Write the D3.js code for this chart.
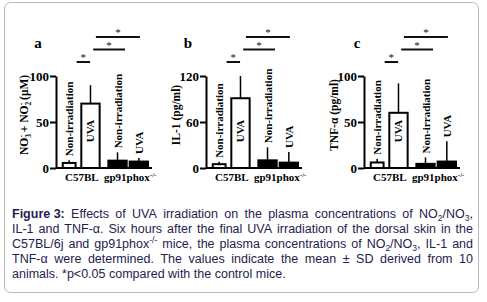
<!DOCTYPE html>
<html><head><meta charset="utf-8">
<script src="https://cdn.jsdelivr.net/npm/d3@7"></script>
<style>body{margin:0;background:#fff}svg{display:block}</style>
</head><body><svg id="chart" width="487" height="302"></svg>
<script>
// ---------- data ----------
const groups = ["C57BL", "gp91phox"];
const conditions = ["Non-irradiation", "UVA"];
const panelLetters = ["a", "b", "c"];
const yMaxes = [100, 120, 100];
const yTickValues = [[0, 50, 100], [0, 60, 120], [0, 50, 100]];
// order: C57BL non-irr, C57BL UVA, gp91 non-irr, gp91 UVA
const noxMeans = [5.5, 70, 8, 7];
const noxSD = [3, 20, 9, 4];
const il1Means = [5, 91, 10, 7];
const il1SD = [3, 29, 17, 14];
const tnfMeans = [6, 60, 4.5, 7];
const tnfSD = [4, 32, 7, 22];
// significance brackets, in bar-index units (0..3)
const sigSpans = [[0.35, 0.98], [1.1, 2.35], [1.2, 3.05]];

// ---------- layout ----------
const svg = d3.select("#chart");
svg.append("rect").attr("x", 4.5).attr("y", 2.5).attr("width", 474).attr("height", 290)
  .attr("rx", 6).attr("fill", "#fff").attr("stroke", "#b8b8b8").attr("stroke-width", 1);

const serif = "'Liberation Serif','Times New Roman',serif";
const panelAxisX = [56, 206, 364];
const panelW = 96;
const yTop = 76, yBase = 168;
const sigY = [62, 49.5, 37];
const labelX = [24, 176, 334];
const letterX = [38, 188, 357];
const barWidthFactor = [0.7, 1, 1, 1];

const panelData = [
  {means: noxMeans, sd: noxSD},
  {means: il1Means, sd: il1SD},
  {means: tnfMeans, sd: tnfSD}
];

panelData.forEach((pd, p) => {
  const g = svg.append("g").attr("transform", `translate(${panelAxisX[p]},0)`);
  const y = d3.scaleLinear().domain([0, yMaxes[p]]).range([yBase, yTop]);
  const x0 = d3.scaleBand().domain(groups).range([4, 92]).paddingInner(0.18).paddingOuter(0);
  const x1 = d3.scaleBand().domain(conditions).range([0, x0.bandwidth()]).paddingInner(0.14);
  const bars = [];
  groups.forEach((gr, gi) => conditions.forEach((c, ci) => {
    const i = gi * 2 + ci;
    const full = x1.bandwidth();
    const w = full * barWidthFactor[i];
    const cx = x0(gr) + x1(c) + full / 2;
    bars.push({group: gr, cond: c, mean: pd.means[i], sd: pd.sd[i], cx, w, i});
  }));
  const centers = bars.map(b => b.cx);
  const posAt = f => {
    const i = Math.min(Math.floor(f), 2);
    return centers[i] + (f - i) * (centers[i + 1] - centers[i]);
  };

  // error bars (upper only)
  g.selectAll(".err").data(bars).join("line")
    .attr("x1", b => b.cx).attr("x2", b => b.cx)
    .attr("y1", b => y(b.mean)).attr("y2", b => y(b.mean + b.sd))
    .attr("stroke", "#000").attr("stroke-width", 1.5);
  // bars
  g.selectAll(".bar").data(bars).join("rect")
    .attr("x", b => b.cx - b.w / 2).attr("width", b => b.w)
    .attr("y", b => y(b.mean)).attr("height", b => yBase - y(b.mean))
    .attr("fill", b => b.group === "C57BL" ? "#fff" : "#000")
    .attr("stroke", "#000").attr("stroke-width", 2);

  // y axis
  const yAxis = d3.axisLeft(y).tickValues(yTickValues[p]).tickSize(6).tickPadding(1).tickSizeOuter(0);
  const ya = g.append("g").call(yAxis);
  ya.select(".domain").attr("stroke-width", 2);
  ya.selectAll(".tick line").attr("stroke-width", 2);
  ya.selectAll(".tick text").attr("font-family", serif).attr("font-weight", "bold")
    .attr("font-size", 13).attr("fill", "#000");
  // x axis line
  g.append("line").attr("x1", 0).attr("x2", panelW).attr("y1", yBase).attr("y2", yBase)
    .attr("stroke", "#000").attr("stroke-width", 2);

  // group labels
  g.selectAll(".glab").data(groups).join("text")
    .attr("x", d => x0(d) + x0.bandwidth() / 2 + 2).attr("y", yBase + 12.5)
    .attr("text-anchor", "middle").attr("font-family", serif).attr("font-weight", "bold")
    .attr("font-size", 11).attr("fill", "#000")
    .each(function (d) {
      const t = d3.select(this);
      t.append("tspan").text(d);
      if (d === "gp91phox") t.append("tspan").attr("font-size", 7).attr("dy", -4).text("-/-");
    });

  // condition labels
  bars.forEach(b => {
    let ty, anchor;
    if (b.cond === "UVA" && b.group === "C57BL") { ty = yBase - 37; anchor = "middle"; }
    else { ty = y(b.mean + b.sd) - 4; anchor = "start"; }
    g.append("text").attr("transform", `translate(${b.cx + 4},${ty}) rotate(-90)`)
      .attr("text-anchor", anchor).attr("font-family", serif).attr("font-weight", "bold")
      .attr("font-size", 11).attr("fill", "#000").text(b.cond);
  });

  // significance
  sigSpans.forEach((s, k) => {
    const xa = posAt(s[0]), xb = posAt(s[1]);
    g.append("line").attr("x1", xa).attr("x2", xb).attr("y1", sigY[k]).attr("y2", sigY[k])
      .attr("stroke", "#111").attr("stroke-width", 2);
    g.append("text").attr("x", (xa + xb) / 2).attr("y", sigY[k] - 1).attr("text-anchor", "middle")
      .attr("font-family", serif).attr("font-size", 11).attr("fill", "#111").text("*");
  });

  // panel letter
  svg.append("text").attr("x", letterX[p]).attr("y", 48).attr("text-anchor", "middle")
    .attr("font-family", serif).attr("font-weight", "bold").attr("font-size", 15)
    .attr("fill", "#000").text(panelLetters[p]);

  // y title
  const yt = svg.append("text").attr("transform", `translate(${labelX[p] + 4},${(yTop + yBase) / 2 - 7}) rotate(-90)`)
    .attr("text-anchor", "middle").attr("font-family", serif).attr("font-weight", "bold")
    .attr("font-size", 11.5).attr("fill", "#000");
  if (p === 0) {
    yt.append("tspan").text("NO");
    yt.append("tspan").attr("font-size", 7.5).attr("dy", 3).text("3");
    yt.append("tspan").attr("font-size", 7.5).attr("dy", -7.5).attr("dx", -3.5).text("-");
    yt.append("tspan").attr("dy", 4.5).text(" + NO");
    yt.append("tspan").attr("font-size", 7.5).attr("dy", 3).text("2");
    yt.append("tspan").attr("font-size", 7.5).attr("dy", -7.5).attr("dx", -3.5).text("-");
    yt.append("tspan").attr("dy", 4.5).text(" (\u03BCM)");
  } else if (p === 1) {
    yt.text("IL-1 (pg/ml)");
  } else {
    yt.text("TNF-\u03B1 (pg/ml)");
  }
});

// ---------- caption ----------
const capFont = "'Liberation Sans',Arial,sans-serif";
const capColor = "#1f2250";
const capLines = [
  [[{t: "Figure 3:", b: 1}], [{t: "Effects"}], [{t: "of"}], [{t: "UVA"}], [{t: "irradiation"}], [{t: "on"}], [{t: "the"}], [{t: "plasma"}], [{t: "concentrations"}], [{t: "of"}], [{t: "NO"}, {t: "2", s: "sub"}, {t: "/NO"}, {t: "3", s: "sub"}, {t: ","}]],
  "IL-1 and TNF-α. Six hours after the final UVA irradiation of the dorsal skin in the",
  [[{t: "C57BL/6j"}], [{t: "and"}], [{t: "gp91phox"}, {t: "-/-", s: "sup"}], [{t: "mice,"}], [{t: "the"}], [{t: "plasma"}], [{t: "concentrations"}], [{t: "of"}], [{t: "NO"}, {t: "2", s: "sub"}, {t: "/NO"}, {t: "3", s: "sub"}, {t: ","}], [{t: "IL-1"}], [{t: "and"}]],
  "TNF-α were determined. The values indicate the mean ± SD derived from 10",
  "animals. *p<0.05 compared with the control mice."
];
const capLeft = 12, capRight = 473, capY0 = 218, capDy = 15, capSize = 12.5;
capLines.forEach((ln, li) => {
  const words = typeof ln === "string" ? ln.split(" ").map(w => [{t: w}]) : ln;
  const justify = li < capLines.length - 1;
  const texts = words.map(w => {
    const t = svg.append("text").attr("y", capY0 + li * capDy).attr("font-family", capFont)
      .attr("font-size", capSize).attr("fill", capColor);
    let shift = 0;
    w.forEach(seg => {
      const ts = t.append("tspan").text(seg.t);
      if (seg.b) ts.attr("font-weight", "bold");
      if (seg.s === "sub") { ts.attr("font-size", 8.5).attr("dy", 3 - shift); shift = 3; }
      else if (seg.s === "sup") { ts.attr("font-size", 8.5).attr("dy", -5 - shift); shift = -5; }
      else if (shift !== 0) { ts.attr("dy", -shift); shift = 0; }
    });
    return t;
  });
  const widths = texts.map(t => t.node().getComputedTextLength());
  const total = d3.sum(widths);
  const spaceW = 3.5;
  const gap = justify && words.length > 1 ? (capRight - capLeft - total) / (words.length - 1) : spaceW;
  let xx = capLeft;
  texts.forEach((t, i) => { t.attr("x", xx); xx += widths[i] + gap; });
});
</script></body></html>
